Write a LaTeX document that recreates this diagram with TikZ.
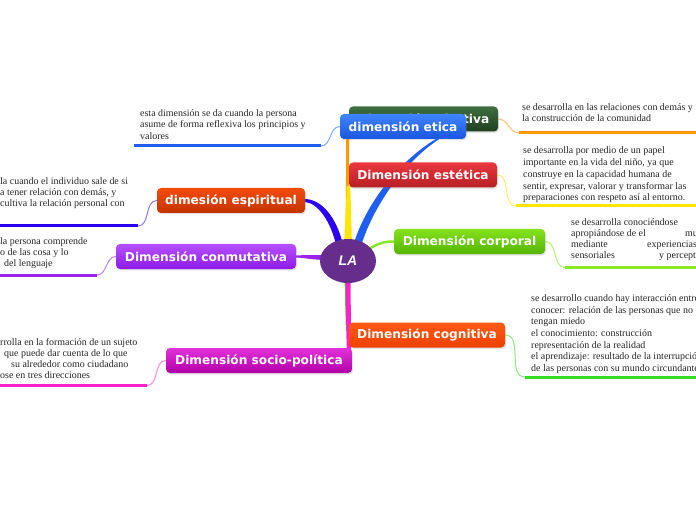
\documentclass[tikz,border=0pt]{standalone}
\usepackage{fontspec}
\setmainfont{Liberation Serif}
\newfontfamily\boxfont{DejaVu Sans}
\newfontfamily\lafont{Liberation Sans}
\usetikzlibrary{shapes.geometric,shadows,calc}
\pgfdeclarelayer{bg}
\pgfsetlayers{bg,main}
\definecolor{afT}{HTML}{3F6F3F}\definecolor{afB}{HTML}{1E3F1E}
\definecolor{etT}{HTML}{3F84FF}\definecolor{etB}{HTML}{1A56E0}
\definecolor{esT}{HTML}{EA383E}\definecolor{esB}{HTML}{B61E25}
\definecolor{spT}{HTML}{F44C0C}\definecolor{spB}{HTML}{C23400}
\definecolor{coT}{HTML}{B650FF}\definecolor{coB}{HTML}{8E1AE8}
\definecolor{cpT}{HTML}{84E21E}\definecolor{cpB}{HTML}{55B400}
\definecolor{cgT}{HTML}{FF5A14}\definecolor{cgB}{HTML}{EE4000}
\definecolor{soT}{HTML}{E232DA}\definecolor{soB}{HTML}{B200A8}
\definecolor{laC}{HTML}{662D8C}
\definecolor{cAf}{HTML}{FF9900}\definecolor{cAfL}{HTML}{FFC070}
\definecolor{cEs}{HTML}{FFE600}\definecolor{cEsL}{HTML}{FFF060}
\definecolor{cEt}{HTML}{1F5FF0}\definecolor{cEtL}{HTML}{7FA8FF}
\definecolor{cSp}{HTML}{2A00EE}\definecolor{cSpL}{HTML}{8877FF}
\definecolor{cCo}{HTML}{9922EE}\definecolor{cCoL}{HTML}{C27EF5}
\definecolor{cCp}{HTML}{88E622}\definecolor{cCpL}{HTML}{B4F270}
\definecolor{cCg}{HTML}{33DD22}\definecolor{cCgL}{HTML}{88EE7A}
\definecolor{cSo}{HTML}{FF22CC}\definecolor{cSoL}{HTML}{FF88E4}
\begin{document}
\begin{tikzpicture}[x=1bp,y=-1bp,
  mmbox/.style={rounded corners=4bp, minimum height=25bp, inner sep=0pt, text=white,
    font=\boxfont\bfseries\fontsize{12.2}{14}\selectfont,
    drop shadow={opacity=0.22,shadow xshift=1bp,shadow yshift=-1.5bp}},
  leaf/.style={anchor=north west, inner sep=0pt, align=left, text=black!85,
    font=\fontsize{10}{11.7}\selectfont},
  leafl/.style={leaf, font=\fontsize{10}{11.3}\selectfont},
  twig/.style={line width=1bp},
  uline/.style={line width=3bp},
]
\useasboundingbox (0,0) rectangle (696,520);

% main topic boxes
\node[mmbox, minimum width=149bp, top color=afT, bottom color=afB] (afectiva) at (423.5,119) {Dimensión afectiva};
\node[mmbox, minimum width=126bp, top color=etT, bottom color=etB] (etica) at (403,126.5) {dimensión etica};
\node[mmbox, minimum width=148bp, top color=esT, bottom color=esB] (estetica) at (423,175) {Dimensión estética};
\node[mmbox, minimum width=148bp, top color=spT, bottom color=spB] (espiritual) at (231,200.5) {dimesión espiritual};
\node[mmbox, minimum width=180bp, top color=coT, bottom color=coB] (conmutativa) at (206,256.5) {Dimensión conmutativa};
\node[mmbox, minimum width=151bp, top color=cpT, bottom color=cpB] (corporal) at (469.5,241.5) {Dimensión corporal};
\node[mmbox, minimum width=156bp, top color=cgT, bottom color=cgB] (cognitiva) at (427,335) {Dimensión cognitiva};
\node[mmbox, minimum width=186bp, top color=soT, bottom color=soB] (socio) at (259,360.5) {Dimensión socio-política};

% central topic
\node[ellipse, fill=laC, minimum width=56bp, minimum height=44bp, inner sep=0pt, text=white,
  font=\lafont\bfseries\itshape\fontsize{14}{16}\selectfont] (la) at (348,261) {LA};

% leaf texts
\node[leaf] (tEt) at (140,107.8) {\strut esta dimensión se da cuando la persona\\asume de forma reflexiva los principios y\\valores};
\node[leaf] (tAf) at (522,101.8) {\strut se desarrolla en las relaciones con demás y\\la construcción de la comunidad};
\node[leaf, font=\fontsize{10}{12}\selectfont] (tEs) at (523,144.6) {\strut se desarrolla por medio de un papel\\importante en la vida del niño, ya que\\construye en la capacidad humana de\\sentir, expresar, valorar y transformar las\\preparaciones con respeto así al entorno.};
\node[leafl] (tSp) at (0,176.2) {\strut la cuando el individuo sale de si\\a tener relación con demás, y\\cultiva la relación personal con};
\node[leafl] (tCo) at (0,236.2) {\strut la persona comprende\\o de las cosa y lo\\\hspace*{4bp}del lenguaje};
\node[leaf, font=\fontsize{10}{11.2}\selectfont] (tCp) at (571,217.2) {\strut se desarrolla conociéndose\\\makebox[114bp][l]{apropiándose de el}mu\\\makebox[76bp][l]{mediante}experiencias\\\makebox[88bp][l]{sensoriales}y percept};
\node[leaf] (tCg) at (531,293.3) {\strut se desarrollo cuando hay interacción entre\\conocer: relación de las personas que no\\tengan miedo\\el conocimiento: construcción\\representación de la realidad\\el aprendizaje: resultado de la interrupción\\de las personas con su mundo circundante};
\node[leaf, font=\fontsize{10}{11}\selectfont] (tSo) at (0,337.3) {\strut rrolla en la formación de un sujeto\\\hspace*{4bp}que puede dar cuenta de lo que\\\hspace*{11bp}su alrededor como ciudadano\\ose en tres direcciones};

% underline ends
\coordinate (uEt) at (321,146);   \coordinate (eEt) at (134,146);
\coordinate (uAf) at (519,133);   \coordinate (eAf) at (696,133);
\coordinate (uEs) at (516,206);   \coordinate (eEs) at (696,206);
\coordinate (uSp) at (138,226);   \coordinate (eSp) at (0,226);
\coordinate (uCo) at (97,275);    \coordinate (eCo) at (0,275);
\coordinate (uCp) at (565,267.5); \coordinate (eCp) at (696,267.5);
\coordinate (uCg) at (525,377);   \coordinate (eCg) at (696,377);
\coordinate (uSo) at (147,385.5); \coordinate (eSo) at (0,385.5);

\begin{pgfonlayer}{bg}
% branches from the centre
\draw[line width=3bp, cAf] ($(la.center)+(-1,-10)$) -- ($(afectiva.south west)+(-1,0)$);
\fill[cEs] ($(la.center)+(-4,-15)$) -- ($(la.center)+(4,-15)$) -- ($(estetica.south west)+(1.5,-2)$) -- ($(estetica.south west)+(-2,-2)$) -- cycle;
\fill[cEt] ($(la.center)+(5,-15)$) .. controls (365,205) and (398,162) .. ($(etica.south)+(32.5,0)$) -- ($(etica.south)+(36,0)$) .. controls (403,163) and (373,207) .. ($(la.center)+(13,-15)$) -- cycle;
\fill[cSp] ($(espiritual.east)+(0,-1.5)$) .. controls (322,199.5) and (337,218) .. ($(la.center)+(-5,-16)$) -- ($(la.center)+(-12,-16)$) .. controls (331,222) and (318,203) .. ($(espiritual.east)+(0,1.5)$) -- cycle;
\fill[cCo] ($(conmutativa.east)+(0,-1)$) .. controls (305,255) and (312,255) .. ($(la.center)+(-24,-6)$) -- ($(la.center)+(-24,-1)$) .. controls (312,259.5) and (305,258) .. ($(conmutativa.east)+(0,1)$) -- cycle;
\draw[line width=2.5bp, cCp] ($(la.center)+(22,-13)$) .. controls (382,242) and (386,241.5) .. (corporal.west);
\draw[line width=1.8bp, cCg] ($(la.center)+(-2.5,20)$) -- ($(cognitiva.west)+(-2,-4)$);
\fill[cSo] ($(la.south)+(-2.5,-3)$) -- ($(la.south)+(2.5,-3)$) -- ($(socio.north east)+(-1,3)$) -- ($(socio.north east)+(-5.5,3)$) -- cycle;

% twigs and underlines
\draw[twig, cEtL] (etica.west) to[out=180,in=0] (uEt);
\draw[uline, cEt] (uEt) -- (eEt);
\draw[twig, cAfL] (afectiva.east) to[out=0,in=180] (uAf);
\draw[uline, cAf] (uAf) -- (eAf);
\draw[twig, cEsL] (estetica.east) to[out=0,in=180] (uEs);
\draw[uline, cEs] (uEs) -- (eEs);
\draw[twig, cSpL] (espiritual.west) to[out=180,in=0] (uSp);
\draw[uline, cSp] (uSp) -- (eSp);
\draw[twig, cCoL] (conmutativa.west) to[out=180,in=0] (uCo);
\draw[uline, cCo] (uCo) -- (eCo);
\draw[twig, cCpL] (corporal.east) to[out=0,in=180] (uCp);
\draw[uline, cCp] (uCp) -- (eCp);
\draw[twig, cCgL] (cognitiva.east) to[out=0,in=180] (uCg);
\draw[uline, cCg] (uCg) -- (eCg);
\draw[twig, cSoL] (socio.west) to[out=180,in=0] (uSo);
\draw[uline, cSo] (uSo) -- (eSo);
\end{pgfonlayer}
\end{tikzpicture}
\end{document}
